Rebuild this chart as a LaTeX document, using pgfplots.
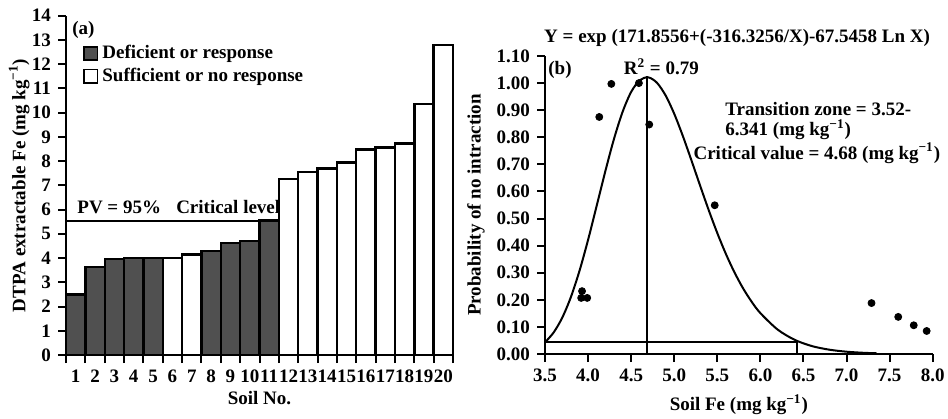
\documentclass[border=0pt]{standalone}
\usepackage{fontspec}
\setmainfont{Liberation Serif}
\usepackage{pgfplots}
\pgfplotsset{compat=1.18}
\definecolor{darkbar}{RGB}{80,80,80}
\newcommand{\fnt}{\fontsize{9.5}{11.4}\selectfont\bfseries}
\begin{document}
\begin{tikzpicture}[font=\fnt]
\useasboundingbox (0,0) rectangle (474pt,209pt);
% ---------------- panel (a)
\begin{axis}[
  at={(33pt,31.5pt)}, anchor=south west,
  scale only axis, width=193.5pt, height=169.65pt,
  xmin=0.5, xmax=20.5, ymin=0, ymax=14,
  axis x line=bottom, axis y line=left,
  axis line style={-, line width=1.3pt},
  xtick={1,...,20}, minor xtick={0.5,1.5,...,20.5},
  major x tick style={draw=none},
  minor x tick style={line width=1pt, black},
  minor tick length=4pt, major tick length=4pt,
  ytick={0,...,14},
  y tick style={line width=1pt, black},
  tick align=outside,
  /pgf/number format/assume math mode=true,
  tick label style={font=\fnt},
  ylabel={DTPA extractable Fe (mg kg\textsuperscript{−1})},
  ylabel style={at={(axis description cs:-0.121,0.5)}, anchor=center},
  xlabel={Soil No.},
  xlabel style={at={(axis description cs:0.5,-0.127)}, anchor=center},
  clip=false,
  legend style={at={(0.044,0.925)}, anchor=north west, draw=none, fill=none,
    inner sep=0pt, row sep=-1pt, font=\fnt, legend cell align=left},
]
\addplot[ybar, bar width=1, bar shift=0pt, fill=darkbar, draw=black, line width=1.2pt,
  legend image code/.code={\draw[fill=darkbar, draw=black, line width=0.9pt] (0pt,-3.3pt) rectangle (6.6pt,3.3pt);}]
  coordinates {(1,2.5) (2,3.62) (3,3.95) (4,4.0) (5,4.0) (8,4.3) (9,4.62) (10,4.7) (11,5.55)};
\addplot[ybar, bar width=1, bar shift=0pt, fill=white, draw=black, line width=1.2pt,
  legend image code/.code={\draw[fill=white, draw=black, line width=0.9pt] (0pt,-3.3pt) rectangle (6.6pt,3.3pt);}]
  coordinates {(6,4.0) (7,4.15) (12,7.25) (13,7.55) (14,7.7) (15,7.95) (16,8.48) (17,8.56) (18,8.72) (19,10.35) (20,12.8)};
\addplot[forget plot, line width=1.2pt] coordinates {(0.5,5.53) (11.5,5.53)};
\legend{Deficient or response, Sufficient or no response}
\node[anchor=west, inner sep=0pt] at (axis cs:0.81,13.41) {(a)};
\node[anchor=west, inner sep=0pt] at (axis cs:1.07,6.1) {PV = 95\%\hspace{0.8em}Critical level};
\end{axis}
% ---------------- panel (b)
\begin{axis}[
  at={(272.5pt,32pt)}, anchor=south west,
  scale only axis, width=193.85pt, height=149pt,
  xmin=3.5, xmax=8.0, ymin=0, ymax=1.10,
  axis x line=bottom, axis y line=left,
  axis line style={-, line width=1.3pt},
  xtick={3.5,4.0,4.5,5.0,5.5,6.0,6.5,7.0,7.5,8.0},
  ytick={0,0.1,0.2,0.3,0.4,0.5,0.6,0.7,0.8,0.9,1.0,1.1},
  major tick length=4pt,
  tick style={line width=1pt, black},
  tick align=outside,
  /pgf/number format/assume math mode=true,
  tick label style={font=\fnt},
  xticklabel style={/pgf/number format/.cd, fixed, fixed zerofill, precision=1},
  yticklabel style={/pgf/number format/.cd, fixed, fixed zerofill, precision=2},
  ylabel={Probability of no intraction},
  ylabel style={at={(axis description cs:-0.178,0.5)}, anchor=center},
  xlabel={Soil Fe (mg kg\textsuperscript{−1})},
  xlabel style={at={(axis description cs:0.5,-0.17)}, anchor=center},
  clip=false,
]
\addplot[smooth, line width=1pt, black] coordinates {
 (3.5,0.0432) (3.6,0.0793) (3.7,0.1340) (3.8,0.2098) (3.9,0.3067) (4.0,0.4214)
 (4.1,0.5471) (4.2,0.6744) (4.3,0.7931) (4.4,0.8933) (4.5,0.9674) (4.6,1.0106)
 (4.7,1.0211) (4.8,1.0010) (4.9,0.9543) (5.0,0.8867) (5.1,0.8046) (5.2,0.7145)
 (5.3,0.6219) (5.4,0.5313) (5.5,0.4463) (5.6,0.3691) (5.7,0.3008) (5.8,0.2419)
 (5.9,0.1922) (6.0,0.1509) (6.2,0.0902) (6.4,0.0520) (6.6,0.0291) (6.8,0.0159)
 (7.0,0.0085) (7.2,0.0044) (7.35,0.0027)};
\addplot[line width=1pt, black] coordinates {(4.68,0) (4.68,1.025)};
\addplot[line width=1pt, black] coordinates {(3.5,0.043) (6.42,0.043) (6.42,0)};
\addplot[only marks, mark=*, mark size=1.75pt, black] coordinates {
 (4.13,0.875) (4.27,0.997) (4.59,1.0) (4.71,0.847) (5.47,0.549)
 (3.93,0.232) (3.92,0.207) (3.99,0.207)
 (7.29,0.188) (7.6,0.137) (7.78,0.106) (7.93,0.085)};
\node[inner sep=0pt] at (axis cs:5.73,1.168) {Y = exp (171.8556+(-316.3256/X)-67.5458 Ln X)};
\node[inner sep=0pt] at (axis cs:4.85,1.06) {R\textsuperscript{2} = 0.79};
\node[anchor=west, inner sep=0pt] at (axis cs:3.535,1.05) {(b)};
\node[anchor=west, inner sep=0pt] at (axis cs:5.59,0.905) {Transition zone = 3.52-};
\node[anchor=west, inner sep=0pt] at (axis cs:5.59,0.828) {6.341 (mg kg\textsuperscript{−1})};
\node[anchor=west, inner sep=0pt] at (axis cs:5.22,0.74) {Critical value = 4.68 (mg kg\textsuperscript{−1})};
\end{axis}
\end{tikzpicture}
\end{document}
